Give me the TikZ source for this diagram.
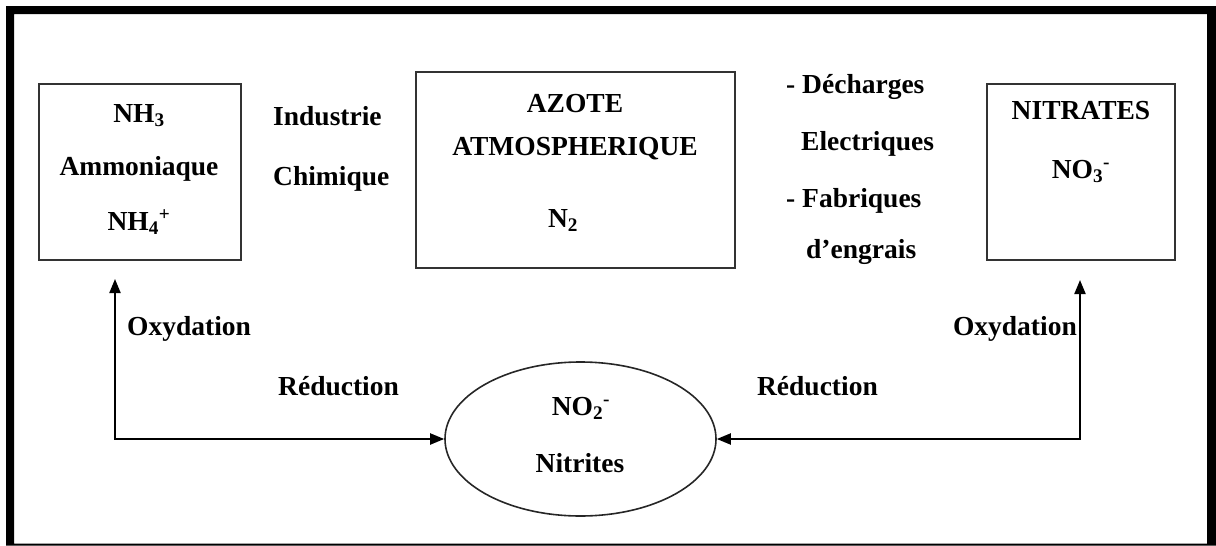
\documentclass[tikz,border=0pt]{standalone}
\usepackage{fontspec}
\setmainfont{Liberation Serif}
\usetikzlibrary{shapes.geometric,arrows.meta}
\begin{document}
\begin{tikzpicture}[x=1pt,y=-1pt,
  lbl/.style={font=\fontsize{27.5}{32}\selectfont\bfseries, inner sep=0pt, anchor=base},
  lblw/.style={lbl, anchor=base west},
  boxn/.style={draw=black!80, line width=1.8pt, inner sep=0pt, anchor=north west},
  arr/.style={line width=2pt, {Triangle[length=14pt,width=11pt]}-{Triangle[length=14pt,width=11pt]}}]
\useasboundingbox (0,0) rectangle (1216,546);
% outer frame
\fill[black, even odd rule] (6,6) rectangle (1216,545.5) (14,14) rectangle (1207,543.5);
% boxes
\node[boxn, minimum width=202pt, minimum height=176pt] (ammo) at (38,83) {};
\node[boxn, minimum width=319pt, minimum height=196pt] (azote) at (415,71) {};
\node[boxn, minimum width=188pt, minimum height=176pt] (nitra) at (986,83) {};
\node[draw=black!85, line width=1.6pt, ellipse, inner sep=0pt, minimum width=271pt, minimum height=154pt] (nitr) at (580.5,439) {};
% box texts
\node[lbl] (t1) at (139,122) {NH\textsubscript{3}};
\node[lbl] (t2) at (139,175) {Ammoniaque};
\node[lbl] (t3) at (139,230) {NH\textsubscript{4}\textsuperscript{+}};
\node[lbl] (t4) at (575,112) {AZOTE};
\node[lbl] (t5) at (575,155) {ATMOSPHERIQUE};
\node[lbl] (t6) at (563,227) {N\textsubscript{2}};
\node[lbl] (t7) at (1081,119) {NITRATES};
\node[lbl] (t8) at (1081,178) {NO\textsubscript{3}\textsuperscript{-}};
\node[lbl] (t9) at (581,415) {NO\textsubscript{2}\textsuperscript{-}};
\node[lbl] (t10) at (580,472) {Nitrites};
% side texts
\node[lblw] (i1) at (273,125) {Industrie};
\node[lblw] (i2) at (273,185) {Chimique};
\node[lblw] (d1) at (786,93) {- Décharges};
\node[lblw] (d2) at (801,150) {Electriques};
\node[lblw] (d3) at (786,207) {- Fabriques};
\node[lblw] (d4) at (806,258) {d’engrais};
\node[lblw] (o1) at (127,335) {Oxydation};
\node[lblw] (r1) at (278,395) {Réduction};
\node[lbl, anchor=base east] (o2) at (1077,335) {Oxydation};
\node[lbl, anchor=base east] (r2) at (878,395) {Réduction};
% connectors
\coordinate (tipL) at (115,279);
\coordinate (tipR) at (1080,280);
\draw[arr] (tipL) |- (nitr.west);
\draw[arr] (tipR) |- (nitr.east);
\end{tikzpicture}
\end{document}
